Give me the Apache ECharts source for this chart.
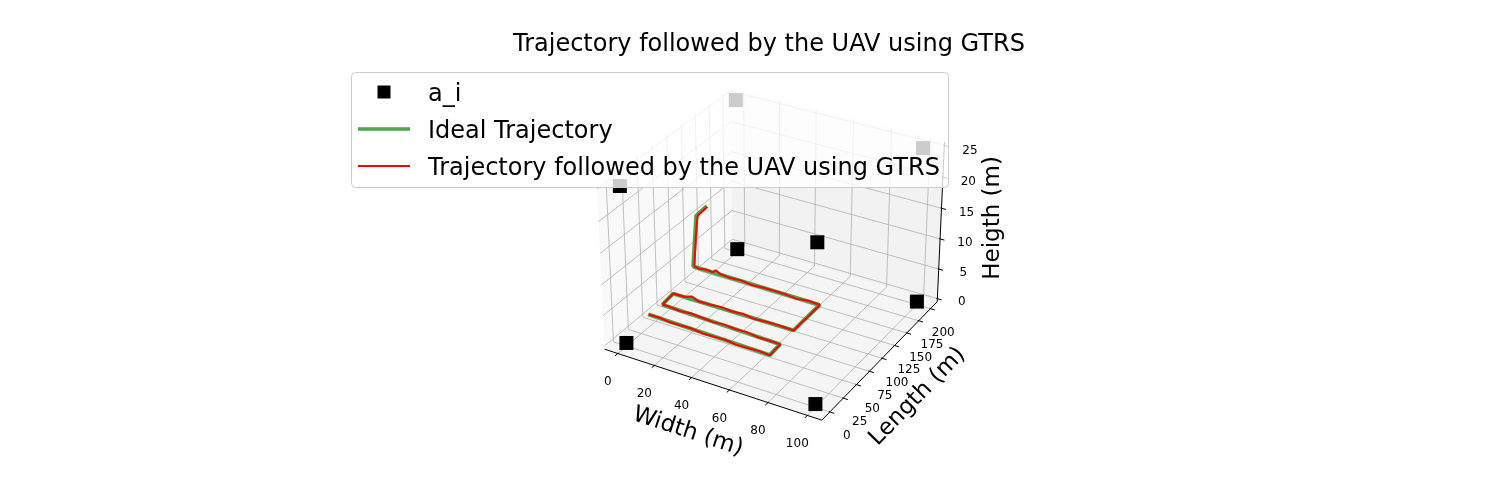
<!DOCTYPE html>
<html>
<head>
<meta charset="utf-8">
<title>Trajectory followed by the UAV using GTRS</title>
<script src="https://cdn.jsdelivr.net/npm/echarts@6/dist/echarts.min.js"></script>
<style>
  html, body { margin: 0; padding: 0; background: #fff; }
  #chart { width: 1500px; height: 500px; }
</style>
</head>
<body>
<div id="chart"></div>
<script>
// ===== data (metres) =====
const widthTicks  = [0, 20, 40, 60, 80, 100];
const lengthTicks = [0, 25, 50, 75, 100, 125, 150, 175, 200];
const heightTicks = [0, 5, 10, 15, 20, 25];

// anchors a_i
const anchorX = [0, 100, 100, 0, 0, 100, 100, 0];
const anchorY = [0, 0, 200, 200, 0, 0, 200, 200];
const anchorZ = [0, 0, 0, 0, 25, 25, 25, 25];

// ideal trajectory (waypoints)
const idealX = [10, 75.5, 75, 11, 10, 74.4, 74, 5, 7, 8];
const idealY = [8, 4.5, 24.4, 29, 50.5, 50.8, 101, 102, 103, 119];
const idealZ = [5, 5, 5, 5, 5, 5, 5, 5, 13.5, 14];

// trajectory followed by the UAV using GTRS
const gtrsX = [10.2, 16, 22, 28, 34, 40, 46, 52, 58, 64, 70, 75.6,
               75.4, 75.1,
               69, 63, 57, 51, 45, 39, 33, 27, 21, 15, 11.1,
               10.8, 10.1,
               16, 20, 24, 30, 36, 42, 48, 54, 60, 66, 71, 74.5,
               74.6, 74.2, 74.3, 74.2,
               68, 62, 56, 50, 44, 38, 32, 26, 20, 17.5, 16, 12, 8, 5.6,
               6.1, 6.6, 7.2, 7.8, 8.6];
const gtrsY = [8.2, 7.7, 7.4, 6.9, 6.5, 6.2, 5.8, 5.5, 5.1, 4.8, 4.6, 4.3,
               14.2, 24.6,
               25.0, 25.6, 26.1, 26.5, 26.9, 27.4, 27.8, 28.3, 28.4, 28.9, 29.2,
               40.1, 50.6,
               50.8, 51.1, 51.4, 51.0, 51.5, 50.9, 51.3, 50.7, 51.2, 50.7, 51.0, 50.8,
               63, 76, 89, 101.1,
               101.3, 100.8, 101.5, 101.0, 101.7, 101.2, 101.7, 101.4, 102.1, 102.0, 102.1, 102.3, 102.0, 102.2,
               102.5, 102.9, 103.2, 103.4, 117];
const gtrsZ = [5.0, 5.1, 4.9, 5.0, 5.1, 4.9, 5.0, 5.1, 4.9, 5.0, 5.1, 5.0,
               5.1, 5.0,
               5.0, 4.9, 5.1, 5.0, 5.1, 4.9, 5.0, 5.1, 4.9, 5.0, 5.0,
               5.1, 5.0,
               5.0, 5.4, 4.9, 5.0, 5.1, 5.0, 5.1, 4.9, 5.0, 5.1, 5.0, 5.0,
               5.1, 4.9, 5.0, 5.0,
               5.1, 4.9, 5.0, 5.1, 5.0, 4.9, 5.1, 5.0, 5.1, 5.5, 5.0, 5.1, 4.9, 5.1,
               7.5, 10, 12.3, 13.6, 14.0];

// ===== 3D view (matplotlib-like perspective) =====
const ELEV = 30, AZIM = -60, DIST = 10;
const LIM = { x: [-5, 105], y: [-10, 210], z: [0, 25] };
const CX = 774, CY = 246, SCALE = 2090;   // projected origin on the canvas, px per unit
const W = 1500, H = 500;
const FONT = 'DejaVu Sans';

const aspectNorm = Math.hypot(4, 4, 3);
const BOX = [4, 4, 3].map(v => v * 1.8294640721620434 / aspectNorm);
const R = BOX.map(v => v / 2);
const el = ELEV * Math.PI / 180, az = AZIM * Math.PI / 180;
const nVec = [Math.cos(el) * Math.cos(az), Math.cos(el) * Math.sin(az), Math.sin(el)];
let uVec = [-nVec[1], nVec[0], 0];
const uLen = Math.hypot(uVec[0], uVec[1]);
uVec = uVec.map(v => v / uLen);
const vVec = [nVec[1] * uVec[2] - nVec[2] * uVec[1],
              nVec[2] * uVec[0] - nVec[0] * uVec[2],
              nVec[0] * uVec[1] - nVec[1] * uVec[0]];
const dot = (a, b) => a[0] * b[0] + a[1] * b[1] + a[2] * b[2];

function project(x, y, z) {
  const w = [
    (x - LIM.x[0]) / (LIM.x[1] - LIM.x[0]) * BOX[0] - R[0],
    (y - LIM.y[0]) / (LIM.y[1] - LIM.y[0]) * BOX[1] - R[1],
    (z - LIM.z[0]) / (LIM.z[1] - LIM.z[0]) * BOX[2] - R[2]
  ];
  const d = DIST - dot(nVec, w);
  return [dot(uVec, w) / d, dot(vVec, w) / d];
}

// panes are padded by 1/48 of the range like mplot3d
const pad = k => (LIM[k][1] - LIM[k][0]) / 48;
const xLo = LIM.x[0] - pad('x'), xHi = LIM.x[1] + pad('x');
const yLo = LIM.y[0] - pad('y'), yHi = LIM.y[1] + pad('y');
const zLo = LIM.z[0] - pad('z'), zHi = LIM.z[1] + pad('z');
const dX = (LIM.x[1] - LIM.x[0]) / 12, dY = (LIM.y[1] - LIM.y[0]) / 12;

const seg = (a, b) => [...project(...a), ...project(...b)];

const paneColors = ['#f9f9f9', '#f2f2f2', '#f5f5f5'];
const panes = [
  [...project(xLo, yLo, zLo), ...project(xLo, yHi, zLo), ...project(xLo, yHi, zHi), ...project(xLo, yLo, zHi), 0],
  [...project(xLo, yHi, zLo), ...project(xHi, yHi, zLo), ...project(xHi, yHi, zHi), ...project(xLo, yHi, zHi), 1],
  [...project(xLo, yLo, zLo), ...project(xHi, yLo, zLo), ...project(xHi, yHi, zLo), ...project(xLo, yHi, zLo), 2]
];

const gridSegs = [];
widthTicks.forEach(x => {
  gridSegs.push(seg([x, yLo, zLo], [x, yHi, zLo]));
  gridSegs.push(seg([x, yHi, zLo], [x, yHi, zHi]));
});
lengthTicks.forEach(y => {
  gridSegs.push(seg([xLo, y, zLo], [xHi, y, zLo]));
  gridSegs.push(seg([xLo, y, zLo], [xLo, y, zHi]));
});
heightTicks.forEach(z => {
  gridSegs.push(seg([xLo, yLo, z], [xLo, yHi, z]));
  gridSegs.push(seg([xLo, yHi, z], [xHi, yHi, z]));
});

const axisSegs = [
  seg([xLo, yLo, zLo], [xHi, yLo, zLo]),
  seg([xHi, yLo, zLo], [xHi, yHi, zLo]),
  seg([xHi, yHi, zLo], [xHi, yHi, zHi])
];
widthTicks.forEach(x => axisSegs.push(seg([x, yLo + 0.05 * dY, zLo], [x, yLo - 0.25 * dY, zLo])));
lengthTicks.forEach(y => axisSegs.push(seg([xHi - 0.05 * dX, y, zLo], [xHi + 0.25 * dX, y, zLo])));
heightTicks.forEach(z => axisSegs.push(seg([xHi - 0.05 * dX, yHi, z], [xHi + 0.25 * dX, yHi, z])));

// tick labels, offset in px from the tick on the pane edge
const lerp = (a, b, t) => a + (b - a) * t;
const tickLabels = [];
widthTicks.forEach(x => tickLabels.push({ name: String(x), value: project(x, yLo, zLo), label: { offset: [-10, 28.5] } }));
lengthTicks.forEach((y, i) => {
  const t = i / (lengthTicks.length - 1);
  tickLabels.push({ name: String(y), value: project(xHi, y, zLo), label: { offset: [lerp(16.9, 12.8, t), lerp(24.1, 24.6, t)] } });
});
heightTicks.forEach((z, i) => {
  const t = i / (heightTicks.length - 1);
  tickLabels.push({ name: String(z), value: project(xHi, yHi, z), label: { offset: [lerp(24.4, 25.6, t), lerp(3, 5.3, t)] } });
});

function screenAngle(a, b) {
  const p = project(...a), q = project(...b);
  return Math.atan2((q[1] - p[1]), (q[0] - p[0])) * 180 / Math.PI;
}
// label offsets are applied in the rotated frame, so turn a screen offset into that frame
function rotatedOffset(sx, sy, deg) {
  const t = deg * Math.PI / 180;
  return [sx * Math.cos(t) - sy * Math.sin(t), sx * Math.sin(t) + sy * Math.cos(t)];
}
const widthAngle = screenAngle([xLo, yLo, zLo], [xHi, yLo, zLo]);
const lengthAngle = screenAngle([xHi, yLo, zLo], [xHi, yHi, zLo]);
const axisTitles = [
  { name: 'Width (m)', value: project(50, yLo, zLo),
    label: { offset: rotatedOffset(-22.4, 48, widthAngle), rotate: widthAngle } },
  { name: 'Length (m)', value: project(xHi, 100, zLo),
    label: { offset: rotatedOffset(35.4, 38.4, lengthAngle), rotate: lengthAngle } },
  { name: 'Heigth (m)', value: project(xHi, yHi, 12.5),
    label: { offset: rotatedOffset(52.2, -5.7, 90), rotate: 90 } }
];

const anchors = anchorX.map((x, i) => project(x, anchorY[i], anchorZ[i]));
const ideal = idealX.map((x, i) => project(x, idealY[i], idealZ[i]));
const gtrs = gtrsX.map((x, i) => project(x, gtrsY[i], gtrsZ[i]));

// ===== renderers =====
function segRenderer(color, width) {
  return function (params, api) {
    const p1 = api.coord([api.value(0), api.value(1)]);
    const p2 = api.coord([api.value(2), api.value(3)]);
    return { type: 'line', shape: { x1: p1[0], y1: p1[1], x2: p2[0], y2: p2[1] },
             style: { stroke: color, lineWidth: width } };
  };
}
function paneRenderer(params, api) {
  const pts = [0, 1, 2, 3].map(k => api.coord([api.value(2 * k), api.value(2 * k + 1)]));
  return { type: 'polygon', shape: { points: pts }, style: { fill: paneColors[api.value(8)] } };
}

const chart = echarts.init(document.getElementById('chart'), null, { renderer: 'canvas' });
chart.setOption({
  animation: false,
  backgroundColor: '#ffffff',
  title: {
    text: 'Trajectory followed by the UAV using GTRS',
    left: 513, top: 33, padding: 0,
    textStyle: { fontFamily: FONT, fontSize: 24, fontWeight: 'normal', color: '#000' }
  },
  grid: { left: 0, right: 0, top: 0, bottom: 0 },
  xAxis: { type: 'value', min: -CX / SCALE, max: (W - CX) / SCALE, show: false },
  yAxis: { type: 'value', min: (CY - H) / SCALE, max: CY / SCALE, show: false },
  series: [
    { type: 'custom', name: 'panes', silent: true, z: 0, renderItem: paneRenderer, data: panes },
    { type: 'custom', name: 'grid', silent: true, z: 1, renderItem: segRenderer('#b0b0b0', 0.8), data: gridSegs },
    { type: 'custom', name: 'axes', silent: true, z: 1, renderItem: segRenderer('#000000', 1), data: axisSegs },
    { type: 'line', name: 'Ideal Trajectory', z: 3, data: ideal, symbol: 'none',
      lineStyle: { color: '#4ca64c', width: 4 }, itemStyle: { color: '#4ca64c' } },
    { type: 'line', name: 'Trajectory followed by the UAV using GTRS', z: 4, data: gtrs, symbol: 'none',
      lineStyle: { color: '#ff0000', width: 2 }, itemStyle: { color: '#ff0000' } },
    { type: 'scatter', name: 'a_i', z: 5, data: anchors, symbol: 'rect', symbolSize: 14,
      itemStyle: { color: '#000000', opacity: 1 } },
    { type: 'scatter', name: 'ticks', z: 5, silent: true, data: tickLabels, symbolSize: 1,
      itemStyle: { color: 'rgba(0,0,0,0)', opacity: 1 },
      label: { show: true, position: 'inside', formatter: '{b}', color: '#000', fontFamily: FONT, fontSize: 12 } },
    { type: 'scatter', name: 'axis titles', z: 5, silent: true, data: axisTitles, symbolSize: 1,
      itemStyle: { color: 'rgba(0,0,0,0)', opacity: 1 },
      label: { show: true, position: 'inside', formatter: '{b}', color: '#000', fontFamily: FONT, fontSize: 23 } }
  ],
  graphic: [
    { type: 'rect', z: 100, shape: { x: 351.5, y: 72.5, width: 597, height: 115, r: 4 },
      style: { fill: 'rgba(255,255,255,0.8)', stroke: '#cccccc', lineWidth: 1 } },
    { type: 'rect', z: 101, shape: { x: 377.5, y: 85.5, width: 13, height: 13 }, style: { fill: '#000' } },
    { type: 'line', z: 101, shape: { x1: 358, y1: 129, x2: 410, y2: 129 }, style: { stroke: '#4ca64c', lineWidth: 3.5 } },
    { type: 'line', z: 101, shape: { x1: 358, y1: 166, x2: 410, y2: 166 }, style: { stroke: '#ff0000', lineWidth: 2 } },
    { type: 'text', z: 101, style: { x: 428, y: 95, text: 'a_i', fontFamily: FONT, fontSize: 24, fill: '#000', verticalAlign: 'middle' } },
    { type: 'text', z: 101, style: { x: 428, y: 132, text: 'Ideal Trajectory', fontFamily: FONT, fontSize: 24, fill: '#000', verticalAlign: 'middle' } },
    { type: 'text', z: 101, style: { x: 428, y: 169, text: 'Trajectory followed by the UAV using GTRS', fontFamily: FONT, fontSize: 24, fill: '#000', verticalAlign: 'middle' } }
  ]
});
</script>
</body>
</html>
